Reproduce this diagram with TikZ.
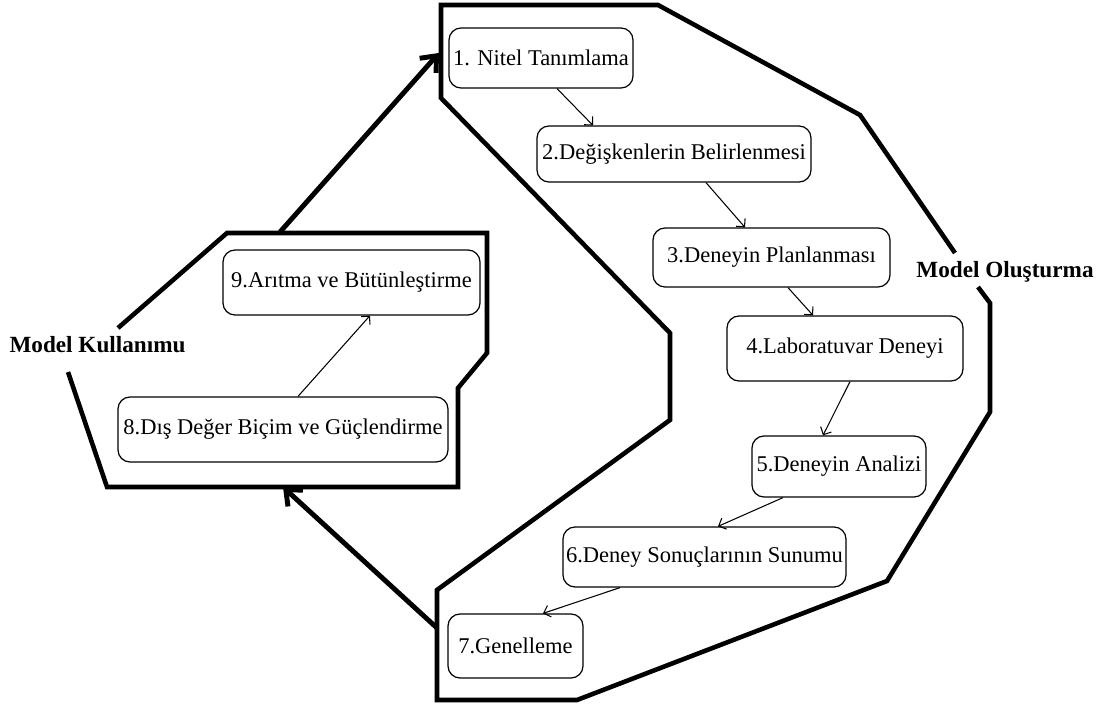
\documentclass[tikz,border=0pt]{standalone}
\usepackage{fontspec}
\setmainfont{Liberation Serif}
\usetikzlibrary{arrows.meta}
\begin{document}
\begin{tikzpicture}[
  stage/.style={draw, line width=0.35pt, rounded corners=1.2mm, inner sep=0pt,
    font=\fontsize{6.4}{7.7}\selectfont},
  border/.style={line width=1.3pt, line join=miter},
  flow/.style={line width=0.3pt, -{Straight Barb[length=0.6mm,width=1.2mm]}},
  jump/.style={line width=1.4pt, -{Straight Barb[length=1.3mm,width=2.2mm]}},
  region/.style={font=\bfseries\fontsize{6.6}{8}\selectfont}
]
\useasboundingbox (0,0) rectangle (11.14,7.04);

% model olusturma
\draw[border] (9.78,4.17) -- (9.90,4.01) -- (9.90,2.92) -- (8.87,1.23)
  -- (5.77,0.04) -- (4.37,0.04) -- (4.37,1.14) -- (6.70,2.84) -- (6.70,3.71)
  -- (4.41,6.06) -- (4.41,6.99) -- (6.58,6.99) -- (8.60,5.89) -- (9.55,4.51);
\node[region] (build) at (10.05,4.32) {Model Oluşturma};

% model kullanimi
\draw[border] (1.18,3.76) -- (2.27,4.71) -- (4.87,4.71) -- (4.87,3.51)
  -- (4.58,3.16) -- (4.58,2.17) -- (1.07,2.17) -- (0.68,3.32);
\node[region] (use) at (0.975,3.59) {Model Kullanımu};

\node[stage, minimum width=1.84cm, minimum height=0.60cm] (s1) at (5.41,6.46) {1. Nitel Tanımlama};
\node[stage, minimum width=2.74cm, minimum height=0.56cm] (s2) at (6.74,5.50) {2.Değişkenlerin Belirlenmesi};
\node[stage, minimum width=2.37cm, minimum height=0.59cm] (s3) at (7.715,4.465) {3.Deneyin Planlanması};
\node[stage, minimum width=2.36cm, minimum height=0.65cm] (s4) at (8.45,3.555) {4.Laboratuvar Deneyi};
\node[stage, minimum width=1.74cm, minimum height=0.61cm] (s5) at (8.39,2.375) {5.Deneyin Analizi};
\node[stage, minimum width=2.83cm, minimum height=0.60cm] (s6) at (7.045,1.47) {6.Deney Sonuçlarının Sunumu};
\node[stage, minimum width=1.35cm, minimum height=0.64cm] (s7) at (5.155,0.58) {7.Genelleme};
\node[stage, minimum width=3.30cm, minimum height=0.65cm] (s8) at (2.83,2.745) {8.Dış Değer Biçim ve Güçlendirme};
\node[stage, minimum width=2.57cm, minimum height=0.65cm] (s9) at (3.515,4.215) {9.Arıtma ve Bütünleştirme};

\draw[flow] ([xshift=0.16cm]s1.south) -- ([xshift=-0.81cm]s2.north);
\draw[flow] ([xshift=0.32cm]s2.south) -- ([xshift=-0.265cm]s3.north);
\draw[flow] ([xshift=0.165cm]s3.south) -- ([xshift=-0.32cm]s4.north);
\draw[flow] ([xshift=0.05cm]s4.south) -- ([xshift=-0.16cm]s5.north);
\draw[flow] ([xshift=-0.56cm]s5.south) -- ([xshift=0.135cm]s6.north);
\draw[flow] ([xshift=-0.845cm]s6.south) -- ([xshift=0.275cm]s7.north);
\draw[flow] ([xshift=0.15cm]s8.north) -- ([xshift=0.185cm]s9.south);

% between the two regions
\coordinate (useout) at (2.80,4.72);
\coordinate (buildin) at (4.39,6.51);
\coordinate (buildout) at (4.37,0.76);
\coordinate (usein) at (2.83,2.17);
\draw[jump] (useout) -- (buildin);
\draw[jump] (buildout) -- (usein);

\end{tikzpicture}
\end{document}
